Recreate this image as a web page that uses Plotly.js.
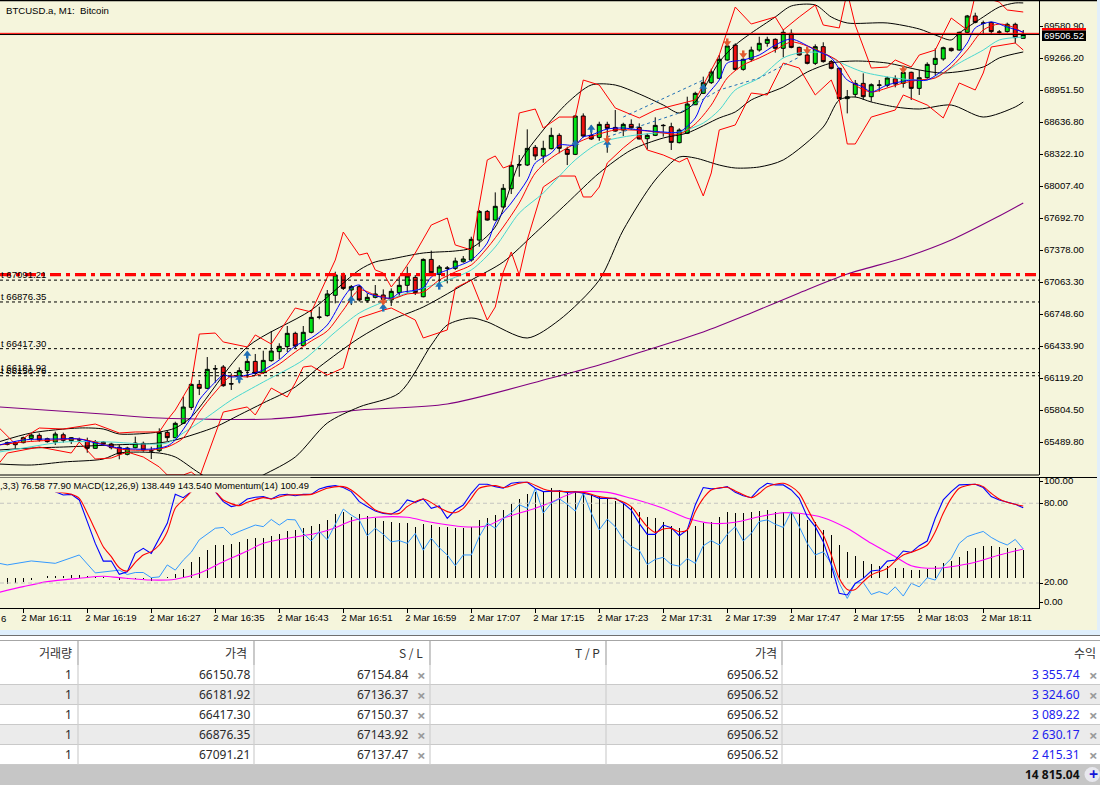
<!DOCTYPE html>
<html><head><meta charset="utf-8">
<script src="https://cdn.plot.ly/plotly-3.0.1.min.js"></script>
<style>html,body{margin:0;padding:0;background:#fff;overflow:hidden}#c{width:1100px;height:791px}</style>
</head><body><div id="c"></div>
<script>
// ---------- candles: one per minute, k = minutes after 16:11, first candle is k = -2
const openP=[65476,65493,65493,65535,65565,65532,65499,65571,65512,65519,65512,65437,65499,65480,65447,65378,65443,65486,65414,65414,65594,65542,65683,65840,66066,66027,66217,66237,66073,66148,66201,66292,66181,66299,66388,66437,66568,66447,66578,66725,66742,66942,67142,66994,67027,66889,66922,66945,66896,66968,67040,67118,66928,67295,67148,67207,67207,67272,67289,67485,67767,67682,67810,67990,68223,68223,68397,68312,68384,68515,68377,68328,68705,68515,68495,68623,68593,68567,68623,68593,68482,68515,68610,68600,68443,68535,68816,68928,69033,69076,69256,69403,69164,69263,69354,69420,69459,69371,69518,69380,69305,69223,69387,69240,69174,68876,68918,69026,68895,69007,69007,69072,69026,69135,68977,69082,69213,69266,69371,69354,69528,69689,69617,69626,69528,69535,69607,69469];
const highP=[65503,65503,65552,65585,65585,65542,65601,65591,65548,65542,65542,65519,65509,65493,65470,65453,65552,65503,65453,65634,65617,65699,65945,66076,66109,66335,66256,66256,66174,66233,66322,66365,66397,66591,66470,66640,66584,66640,66797,66830,66994,67174,67164,67043,67043,66961,67043,67000,67010,67125,67223,67141,67305,67381,67240,67230,67312,67328,67518,67781,67781,67954,68036,68256,68321,68574,68420,68462,68590,68535,68403,68715,68731,68616,68649,68649,68764,68639,68672,68633,68535,68692,68626,68639,68584,68895,68944,69092,69170,69305,69436,69420,69272,69387,69485,69485,69469,69557,69557,69387,69322,69410,69430,69256,69181,68961,69059,69125,69026,69059,69092,69105,69174,69141,69158,69233,69371,69387,69377,69535,69699,69721,69643,69633,69551,69623,69623,69551];
const lowP=[65466,65434,65486,65512,65503,65493,65470,65493,65480,65493,65394,65434,65466,65427,65329,65368,65437,65404,65332,65401,65509,65535,65676,65814,65961,66020,66083,66043,66011,66076,66132,66155,66168,66289,66312,66384,66420,66443,66568,66706,66732,66863,66994,66846,66880,66869,66912,66797,66837,66928,66961,66945,66922,67158,67059,67059,67191,67263,67272,67420,67676,67676,67804,67938,68108,68213,68272,68246,68377,68338,68223,68321,68495,68469,68462,68344,68551,68508,68567,68476,68377,68508,68502,68371,68436,68528,68813,68921,69020,69066,69249,69151,69151,69240,69338,69387,69328,69282,69371,69299,69213,69207,69230,69164,68869,68731,68889,68863,68846,68945,68987,68987,68984,68863,68912,69072,69108,69249,69338,69348,69518,69617,69502,69512,69502,69525,69420,69469];
const closeP=[65493,65473,65542,65568,65519,65503,65578,65516,65542,65522,65437,65503,65480,65443,65381,65440,65489,65421,65411,65594,65542,65683,65843,66066,66027,66214,66220,66053,66070,66201,66292,66174,66302,66394,66440,66568,66443,66578,66725,66728,66955,67142,67010,67027,66896,66922,66955,66902,66981,67040,67131,66968,67295,67164,67220,67210,67279,67299,67492,67767,67682,67817,67994,68220,68226,68387,68312,68387,68515,68387,68328,68705,68508,68479,68623,68584,68557,68623,68590,68479,68515,68613,68613,68446,68567,68823,68928,69033,69138,69263,69394,69164,69263,69354,69420,69459,69371,69528,69380,69305,69223,69387,69240,69174,68876,68895,69026,68895,69013,69010,69079,69020,69135,68977,69082,69213,69272,69377,69348,69528,69689,69626,69620,69535,69531,69607,69476,69506.52];

// ---------- moving averages and bands, read at visible turning points
const ma200K=[-3,10,17,31,42,53,66,72,78,85,91,97,103,110,116,122,125];
const ma200=[65844,65775,65735,65726,65814,65873,66129,66257,66404,66581,66768,66965,67151,67309,67486,67722,67850];
const bbUpK=[-3,1,7,10,12,17,19,21,28,36,42,44,46,50,54,56,59,62,65,68,71,74,77,80,82,84,87,89,91,94,96,99,101,103,108,112,114,116,117,120,122,124,125];
const bbUp=[65502,65588,65637,65627,65578,65598,65637,65745,66434,66797,67191,67270,67299,67358,67378,67407,67614,68243,68568,68833,69010,69010,68922,68813,68735,68843,69236,69403,69521,69679,69787,69797,69679,69620,69620,69561,69502,69453,69521,69679,69777,69817,69817];
const bbMidK=[-3,1,5,11,17,19,24,27,30,34,37,42,46,50,56,60,64,68,72,76,80,83,87,89,91,95,98,101,104,108,112,115,120,122,125];
const bbMid=[65421,65440,65450,65470,65490,65519,65647,65765,65883,66040,66237,66522,66699,66827,67092,67270,67555,67850,68145,68371,68489,68538,68686,68745,68863,68990,69138,69226,69246,69226,69158,69128,69187,69276,69335];
const bbLowK=[-3,1,5,10,12,17,19,22,26,30,34,38,42,47,51,53,56,58,63,67,72,75,79,82,84,87,89,92,95,100,102,104,106,109,112,116,120,124,125];
const bbLow=[65283,65273,65303,65332,65391,65391,65352,65195,65027,65175,65352,65686,65844,65981,66453,66650,66719,66680,66522,66699,67092,67584,68076,68302,68292,68223,68194,68204,68273,68597,68863,68892,68843,68794,68774,68813,68695,68794,68843];
const envUpK=[-3,-1,1,2,5,9,12,14,17,18,19,20,21,22,24,25,28,29,31,34,36,39,40,42,43,44,45,46,47,49,51,53,54,56,58,59,60,61,62,64,65,67,69,70,72,74,77,79,82,84,87,89,91,94,95,97,99,100,102,103,104,106,108,109,111,112,114,116,118,119,122,123,125];
const envUp=[65637,65480,65588,65637,65627,65676,65588,65598,65598,65716,65814,65942,66080,66561,66571,66483,66434,66552,66463,66817,66778,67289,67564,67338,67358,67191,67161,67024,67122,67358,67633,67702,67437,67388,68273,68312,68194,68223,68735,68774,68587,68695,68695,69059,69010,68784,68686,68764,68823,68863,69305,69777,69610,69679,69551,69679,69797,69600,69571,69925,69600,69177,69187,69256,69187,69305,69354,69669,69551,69895,69826,69748,69728];
const envLowK=[-3,-2,2,6,7,9,11,13,15,17,18,20,21,22,25,28,29,31,33,34,35,36,38,40,41,42,45,46,47,49,50,53,54,56,58,59,60,61,62,63,65,67,69,70,71,72,73,75,77,78,80,82,83,85,86,87,89,91,93,95,97,99,101,102,103,104,106,109,110,113,115,117,119,120,121,124,125];
const envLow=[65293,65391,65450,65391,65499,65332,65342,65401,65352,65254,65175,65175,65204,65145,65794,65844,65765,66030,65942,66080,66237,66247,66158,66227,66502,66719,66797,66817,66778,66699,66522,66601,67014,67092,66699,66827,67171,67368,67142,67486,68007,68115,68115,67909,67909,68007,68243,68391,68518,68371,68322,68253,68292,67919,68145,68568,68617,68931,68912,69226,69177,68912,69059,68863,68430,68430,68695,68764,68912,68813,68686,69030,68961,69128,69384,69423,69354];
const maFastK=[-3,0,4,7,9,12,16,18,19,21,22,24,25,26,28,30,32,34,36,38,40,41,42,43,46,47,50,51,53,56,58,59,61,63,64,66,67,69,70,71,73,75,77,80,82,84,85,87,88,90,92,94,96,99,101,103,105,106,108,111,113,116,118,119,121,123,125];
const maFast=[65470,65519,65529,65529,65490,65440,65430,65460,65519,65745,65912,66089,66158,66139,66158,66207,66306,66444,66522,66650,66915,67014,67043,66965,66915,66965,67014,67122,67191,67289,67456,67653,67850,68076,68243,68341,68420,68420,68499,68518,68577,68587,68568,68548,68548,68686,68863,69059,69226,69256,69305,69403,69462,69354,69276,69059,68990,68941,69010,69059,69059,69226,69423,69571,69630,69580,69531];
const maMidK=[-3,0,4,7,9,12,16,18,20,22,24,26,28,30,32,34,36,38,40,42,44,46,48,50,52,54,56,58,60,62,64,66,68,70,72,74,76,78,80,82,84,86,88,90,92,94,96,98,100,102,104,106,108,110,112,114,116,118,120,122,124,125];
const maMid=[65470,65499,65519,65529,65499,65430,65421,65450,65539,65794,65991,66148,66139,66178,66266,66384,66493,66591,66797,66994,66945,66906,66955,66974,67092,67171,67240,67407,67614,67850,68145,68292,68391,68469,68528,68568,68568,68558,68538,68528,68627,68813,69079,69207,69276,69354,69433,69394,69325,69236,69010,68941,68981,69030,69059,69079,69187,69354,69551,69610,69571,69521];
const maSlowK=[-3,0,5,11,15,18,20,23,26,30,35,39,42,45,48,52,56,59,62,65,69,72,75,79,82,85,87,89,92,95,97,100,102,105,109,113,115,117,120,122,125];
const maSlow=[65401,65440,65499,65499,65480,65490,65588,65745,65912,66089,66306,66581,66768,66876,66965,67063,67191,67417,67751,67948,68273,68440,68499,68538,68548,68636,68764,68961,69079,69276,69325,69325,69236,69138,69079,69059,69128,69226,69354,69453,69482];
const trendAK=[75,85]; const trendA=[68695,69059];
const trendBK=[73,82,87,92,97]; const trendB=[68499,68735,68961,69079,69285];
const buyK=[27,28,41,45,52,69,71,73,85]; const buyP=[66129,66365,66906,66827,67043,68440,68587,68440,68990];
const sellK=[45,73,88,90,98,110]; const sellP=[66876,68469,69423,69305,69344,69158];

// ---------- orders
const orderVolume=[1,1,1,1,1];
const orderPrice=[66150.78,66181.92,66417.30,66876.35,67091.21];
const orderSL=[67154.84,67136.37,67150.37,67143.92,67137.47];
const orderNow=[69506.52,69506.52,69506.52,69506.52,69506.52];
const orderProfit=["3 355.74","3 324.60","3 089.22","2 630.17","2 415.31"];
const profitTotal="14 815.04";
const tableHeaders=["거래량","가격","S / L","T / P","가격","수익"];
const bidPrice=69506.52, askPrice=69518;

// ---------- lower window
const stochK=[4,5,6,7,8,9,10,11,12,13,14,15,16,17,18,19,20,21,22,23,24,25,26,27,28,29,30,31,32,33,34,35,36,37,38,39,40,41,42,43,44,45,46,47,48,49,50,51,52,53,54,55,56,57,58,59,60,61,62,63,64,65,66,67,68,69,70,71,72,73,74,75,76,77,78,79,80,81,82,83,84,85,86,87,88,89,90,91,92,93,94,95,96,97,98,99,100,101,102,103,104,105,106,107,108,109,110,111,112,113,114,115,116,117,118,119,120,121,122,123,124,125];
const stochMain=[88.75,86.2,86.7,82.5,66.2,49.8,36.5,36.5,26.5,28.5,42.3,46.1,42.3,53.6,64.9,86.7,84.2,88.75,95,95,88.75,81.2,77.5,78.7,83.2,84.5,85,83.2,86.2,86.7,85.7,86.7,86.7,90.8,92.5,93.3,91.8,88.75,81.2,77.5,74.2,72.4,71.7,74.9,82.5,80.7,83.2,76.2,78,68.7,74.9,78.7,87.5,94.3,94.3,92.5,91.3,95,95.8,95.8,91.3,88.75,89.3,89.3,88.2,88.75,87.5,86.2,83.7,83.7,83.7,80,74.9,64.9,56.6,56.6,63.6,61.6,55.6,59.9,78.7,91.8,90.8,91.3,92.5,88.2,85.7,84.2,90.8,95,93.8,93.8,90,83.7,69.9,62.4,51.1,33.5,12.2,11,19.7,23.5,29,29.8,36.5,37.3,44.1,43.1,48.1,51.6,68.7,82.5,88.75,93.8,94.3,94.3,91.8,85,82.5,80.7,79.2,76.58];
const stochSigK=[4,6,7,8,9,10,11,12,13,14,15,16,17,18,19,20,21,22,24,25,27,28,30,31,33,36,38,40,41,43,44,45,47,48,50,52,53,54,55,56,57,59,60,62,63,65,66,70,72,74,76,77,78,79,80,81,82,83,84,85,86,88,89,91,92,93,95,96,97,98,99,100,101,102,103,104,105,106,108,109,110,111,113,114,115,116,117,118,119,120,121,122,123,124,125];
const stochSig=[88.75,86.7,83.7,72.4,59.9,47.3,39.8,31.5,29,35.5,41.1,43.6,48.6,58.6,76.2,82.5,88.75,95,88.75,82.5,78.2,80.7,84.2,83.2,86.2,86.7,91.3,92.5,90,80,74.9,72.9,72.4,77.5,83.2,76.7,73.7,72.9,76.2,83.7,91.3,93.3,91.8,95,95.8,90.8,89.3,88.2,85,83.2,77.5,69.9,62.4,58.1,60.6,61.1,58.6,59.9,73.7,83.7,90,92,89.3,84.2,87.5,92.5,95,92.5,87.5,76.2,64.9,56.1,41.1,23.5,15.2,15.2,21,26,31,36.5,41.1,43.1,48.6,58.6,72.4,83.7,91.3,93.3,94.3,92.5,87.5,83.2,80.7,79.2,77.9];
const macdHist=[-33,-25,-23,-13,-2,8,8,8,13,13,8,5,1,-3,-12,-7,-5,-7,-15,-3,3,20,43,78,103,138,165,165,167,178,192,197,198,210,217,233,239,247,259,269,289,319,327,305,317,307,299,284,279,275,275,255,269,264,255,255,250,250,255,289,297,314,339,369,394,419,430,430,447,439,427,434,422,414,405,397,385,372,355,327,305,300,280,260,250,247,260,272,280,305,327,324,324,330,334,339,327,330,327,319,289,277,239,214,164,127,107,83,68,60,60,50,47,38,38,43,60,72,83,105,133,147,158,158,155,150,147,138.449];
const macdSigK=[-3,0,3,7,10,12,16,19,22,25,28,30,33,37,39,41,44,48,51,55,58,60,64,66,69,73,76,80,83,86,89,92,95,97,100,103,106,109,111,114,116,119,122,125];
const macdSig=[-73,-45,-20,-3,7,0,-12,-8,22,80,133,172,197,225,250,284,302,302,277,255,260,297,347,377,427,427,397,347,297,272,277,305,325,322,300,247,172,105,60,47,55,77,113,143.54];
const momK=[-3,-2,1,4,7,9,12,13,14,15,16,17,18,19,20,21,22,23,24,25,26,27,28,29,30,31,32,33,34,35,36,37,38,39,40,41,42,43,44,45,46,47,48,49,50,51,52,53,54,55,56,57,58,59,60,61,62,63,64,65,66,67,68,69,70,71,72,73,74,75,76,77,78,79,80,81,82,83,84,85,86,87,88,89,90,91,92,93,94,95,96,97,98,99,100,101,102,103,104,105,106,107,108,109,110,111,112,113,114,115,116,117,118,119,120,121,122,123,124,125];
const mom=[100.13,100.09,100.19,100.13,100.34,99.89,99.96,99.85,99.90,99.90,99.77,99.79,100.09,99.96,100.21,100.41,100.72,100.86,101.01,101.03,100.84,100.93,101.01,101.09,101.05,101.23,101.09,101.23,101.22,100.88,100.69,100.93,100.72,101.09,101.49,101.34,101.22,100.82,101.01,100.86,100.67,100.70,100.63,100.88,100.46,100.76,100.52,100.34,100.07,100.34,100.34,100.80,101.14,101.01,101.26,101.39,101.60,101.51,102.01,101.39,101.64,101.75,101.61,101.44,101.89,101.39,100.97,101.24,101.05,100.74,100.55,100.46,100.10,100.23,100.28,100.10,100.06,100.25,100.13,100.57,100.70,100.59,100.86,101.05,100.69,100.88,101.18,101.22,101.11,101.03,101.43,101.05,100.63,100.34,100.42,100.13,99.63,99.25,99.63,99.65,99.35,99.42,99.35,99.54,99.31,99.63,99.54,99.77,99.71,100.05,100.25,100.63,100.80,100.87,100.93,100.78,100.67,100.59,100.73,100.49];
const stochLevels=[80,20];

// ---------- axes text
const priceTicks=[69580.90,69266.20,68951.50,68636.80,68322.10,68007.40,67692.70,67378.00,67063.30,66748.60,66433.90,66119.20,65804.50,65489.80];
const timeTickK=[0,8,16,24,32,40,48,56,64,72,80,88,96,104,112,120];
const timeTickText=["2 Mar 16:11","2 Mar 16:19","2 Mar 16:27","2 Mar 16:35","2 Mar 16:43","2 Mar 16:51","2 Mar 16:59","2 Mar 17:07","2 Mar 17:15","2 Mar 17:23","2 Mar 17:31","2 Mar 17:39","2 Mar 17:47","2 Mar 17:55","2 Mar 18:03","2 Mar 18:11"];
const stochTickVals=[96,80,20,5];
const stochTickText=["100.00","80.00","20.00","0.00"];

// ---------- styling / layout helpers
const W=1100,H=791;
const px=x=>x/W, py=y=>1-y/H;
const BG='#f5f5dc';
const FONT='"Liberation Sans",Arial,sans-serif';
const FS=9.6;
const UI='"Noto Sans","Noto Sans CJK KR",sans-serif';
const XMIN=-2.91, XMAX=126.97;
const candleK=openP.map((_,i)=>i-2);

const line=(x,y,color,w,ya,dash,smooth)=>({type:'scatter',mode:'lines',x,y,xaxis:'x',yaxis:ya,hoverinfo:'skip',showlegend:false,line:{color,width:w,dash:dash||'solid',shape:smooth?'spline':'linear',smoothing:0.8}});
const traces=[];
// lower window first (MACD, momentum), stochastic last so it stays on top
traces.push({type:'bar',x:candleK,y:macdHist,base:0,width:0.16,marker:{color:'#000',line:{width:0}},xaxis:'x',yaxis:'y2',hoverinfo:'skip',showlegend:false});
traces.push(line(macdSigK,macdSig,'#ff00ff',1.1,'y2',null,true));
traces.push(line(momK,mom,'#3399ff',1,'y3'));
stochLevels.forEach(v=>traces.push(line([XMIN,XMAX],[v,v],'#c4c4c0',1,'y4','4px,3px')));
traces.push(line(stochK,stochMain,'#0000ff',1.1,'y4'));
traces.push(line(stochSigK,stochSig,'#ff0000',1.1,'y4',null,true));
// main window
traces.push({type:'candlestick',x:candleK,open:openP,high:highP,low:lowP,close:closeP,xaxis:'x',yaxis:'y',hoverinfo:'skip',showlegend:false,whiskerwidth:0,
  increasing:{fillcolor:'#00e414',line:{color:'#000',width:1}},decreasing:{fillcolor:'#ee0f0f',line:{color:'#000',width:1}}});
traces.push(line(ma200K,ma200,'#800080',1.1,'y',null,true));
traces.push(line(bbUpK,bbUp,'#000',1,'y',null,true));
traces.push(line(bbMidK,bbMid,'#000',1,'y',null,true));
traces.push(line(bbLowK,bbLow,'#000',1,'y',null,true));
traces.push(line(envUpK,envUp,'#ff0000',1,'y'));
traces.push(line(envLowK,envLow,'#ff0000',1,'y'));
traces.push(line(maSlowK,maSlow,'#48d8d0',1,'y',null,true));
traces.push(line(maMidK,maMid,'#ff0000',1,'y',null,true));
traces.push(line(maFastK,maFast,'#0000ff',1,'y',null,true));
traces.push(line(trendAK,trendA,'#1f6fb5',1,'y','3px,3px'));
traces.push(line(trendBK,trendB,'#1f6fb5',1,'y','3px,3px'));
orderPrice.forEach(v=>traces.push(line([XMIN,XMAX],[v,v],'#000',1,'y','3px,3px')));
orderSL.forEach(v=>traces.push(line([XMIN,XMAX],[v,v],'#ff0000',1.2,'y','11px,5px,4px,5px')));
traces.push(line([XMIN,XMAX],[askPrice,askPrice],'#ff0000',1,'y'));
traces.push(line([XMIN,XMAX],[bidPrice,bidPrice],'#000',1,'y'));
const stem=45;
traces.push({type:'scatter',mode:'markers',x:buyK,y:buyP,xaxis:'x',yaxis:'y',hoverinfo:'skip',showlegend:false,marker:{symbol:'triangle-up',size:7,color:'#1f6fb5',line:{width:0}},
  error_y:{type:'constant',value:stem,valueminus:stem,symmetric:false,array:[],visible:true,thickness:2.5,width:0,color:'#1f6fb5',traceref:0}});
traces[traces.length-1].error_y={type:'data',symmetric:false,array:buyK.map(()=>0),arrayminus:buyK.map(()=>stem),visible:true,thickness:2.5,width:0,color:'#1f6fb5'};
traces.push({type:'scatter',mode:'markers',x:sellK,y:sellP,xaxis:'x',yaxis:'y',hoverinfo:'skip',showlegend:false,marker:{symbol:'triangle-down',size:7,color:'#e2592f',line:{width:0}},
  error_y:{type:'data',symmetric:false,array:sellK.map(()=>stem),arrayminus:sellK.map(()=>0),visible:true,thickness:2.5,width:0,color:'#e2592f'}});

// ---------- shapes
const rect=(x0,y0,x1,y1,fill)=>({type:'rect',xref:'paper',yref:'paper',x0:px(x0),x1:px(x1),y0:py(y1),y1:py(y0),fillcolor:fill,line:{width:0},layer:'above'});
const hl=(x0,x1,y,c,w)=>({type:'line',xref:'paper',yref:'paper',x0:px(x0),x1:px(x1),y0:py(y),y1:py(y),line:{color:c,width:w||1},layer:'above'});
const vl=(x,y0,y1,c,w)=>({type:'line',xref:'paper',yref:'paper',x0:px(x),x1:px(x),y0:py(y0),y1:py(y1),line:{color:c,width:w||1},layer:'above'});
const shapes=[
  hl(0,1100,0.5,'#000',1.5), hl(0,1039,475,'#000',1), hl(0,1100,477.5,'#000',1),
  rect(1097,0,1100,630,'#e2effa'),
  rect(0,630,1100,791,'#ffffff'), rect(0,630,1100,635,'#dfeffc'), hl(0,1100,635.5,'#6f6f6f',1), hl(0,1100,640.5,'#a6a6a6',1.2),
  rect(1042,28,1086,30.5,'#ff0000'), rect(1042,30.5,1086,41,'#000000')
];
const rowTop=665,rowH=20,dividers=[78,254,430,606,782];
orderPrice.forEach((_,i)=>{ if(i%2==1) shapes.push(rect(0,rowTop+i*rowH,1100,rowTop+(i+1)*rowH,'#ebebeb')); });
orderPrice.forEach((_,i)=>shapes.push(hl(0,1100,rowTop+(i+1)*rowH-0.5,'#c9c9c9',1)));
dividers.forEach(d=>{shapes.push(vl(d,641,665,'#a6a6a6',1.2));shapes.push(vl(d,665,765,'#cfcfcf',1.2));});
shapes.push(rect(0,765,1100,785,'#c6c6c6'));
shapes.push({type:'circle',xref:'paper',yref:'paper',x0:px(1084.5),x1:px(1100),y0:py(782),y1:py(767),fillcolor:'#e8e8ee',line:{width:0},layer:'above'});

// ---------- annotations
const ann=(t,x,y,o={})=>Object.assign({text:t,x:px(x),y:py(y),xref:'paper',yref:'paper',showarrow:false,xanchor:'right',yanchor:'middle',borderpad:0,font:{family:UI,size:12,color:'#2a2a2a'}},o);
const annotations=[
  ann('BTCUSD.a, M1:  Bitcoin',5,11,{xanchor:'left',font:{family:FONT,size:FS,color:'#000'}}),
  ann(',3,3) 76.58 77.90 MACD(12,26,9) 138.449 143.540 Momentum(14) 100.49',-1,485,{xanchor:'left',font:{family:FONT,size:9.4,color:'#000'},bgcolor:BG,width:310,height:14,align:'left'}),
  ann('6',0,618,{xanchor:'left',font:{family:FONT,size:FS,color:'#000'}}),
  ann(bidPrice.toFixed(2),1064,35.7,{xanchor:'center',font:{family:FONT,size:FS,color:'#fff'}})
];
orderPrice.forEach(v=>annotations.push({text:'t '+v.toFixed(2),x:XMIN,y:v,xref:'x',yref:'y',showarrow:false,xanchor:'left',yanchor:'middle',yshift:5.5,borderpad:0,font:{family:FONT,size:FS,color:'#000'}}));
const hdrRight=[73,248,424,601,778,1096.5];
tableHeaders.forEach((t,i)=>annotations.push(ann(t,hdrRight[i],652.5,{font:{family:'"Noto Sans CJK KR",sans-serif',size:12,color:'#333'}})));
const xMark={xanchor:'center',font:{family:UI,size:15,color:'#9a9a9a'}};
orderPrice.forEach((_,i)=>{
  const y=rowTop+i*rowH+9.5;
  annotations.push(ann(String(orderVolume[i]),73,y));
  annotations.push(ann(orderPrice[i].toFixed(2),251,y));
  annotations.push(ann(orderSL[i].toFixed(2),409,y));
  annotations.push(ann('<b>×</b>',421.5,y,xMark));
  annotations.push(ann(orderNow[i].toFixed(2),778.5,y));
  annotations.push(ann(orderProfit[i],1081,y,{font:{family:UI,size:12,color:'#2020ee'}}));
  annotations.push(ann('<b>×</b>',1093,y,xMark));
});
annotations.push(ann('<b>'+profitTotal+'</b>',1081,774.5,{font:{family:UI,size:12,color:'#111'}}));
annotations.push(ann('<b>+</b>',1093,774,{xanchor:'center',font:{family:UI,size:16,color:'#1515d8'}}));

const hidden=(range,domain)=>({domain,range,overlaying:'y2',anchor:'x',visible:false,fixedrange:true});
const lowDom=[py(608),py(478)];
const layout={
  width:W,height:H,margin:{l:0,r:0,t:0,b:0,pad:0},paper_bgcolor:BG,plot_bgcolor:BG,showlegend:false,bargap:0,shapes,annotations,
  font:{family:FONT,size:FS,color:'#000'},
  xaxis:{domain:[0,px(1039)],range:[XMIN,XMAX],anchor:'y2',type:'linear',rangeslider:{visible:false},showgrid:false,zeroline:false,
    tickmode:'array',tickvals:timeTickK,ticktext:timeTickText,ticks:'outside',ticklen:4,tickwidth:1,tickcolor:'#000',showline:true,linecolor:'#000',linewidth:1,
    ticklabelposition:'outside right',ticklabelshift:-3,tickfont:{family:FONT,size:FS,color:'#000'},fixedrange:true},
  yaxis:{domain:[py(475),1],range:[65174.85,69846],side:'right',anchor:'x',showgrid:false,zeroline:false,tickmode:'array',tickvals:priceTicks,ticktext:priceTicks.map(v=>v.toFixed(2)),
    ticks:'outside',ticklen:3,tickcolor:'#000',ticklabelstandoff:-1,ticklabelshift:-1,showline:true,linecolor:'#000',linewidth:1,tickfont:{family:FONT,size:FS,color:'#000'},fixedrange:true},
  yaxis2:{domain:lowDom,range:[-151.8,498.7],anchor:'x',side:'right',visible:false,fixedrange:true},
  yaxis3:hidden([99.01,102.27],lowDom),
  yaxis4:{domain:lowDom,range:[1.2,99],overlaying:'y2',anchor:'x',side:'right',showgrid:false,zeroline:false,tickmode:'array',tickvals:stochTickVals,ticktext:stochTickText,
    ticks:'outside',ticklen:3,tickcolor:'#000',ticklabelstandoff:-1,ticklabelshift:-1,showline:true,linecolor:'#000',linewidth:1,tickfont:{family:FONT,size:FS,color:'#000'},fixedrange:true}
};
Plotly.newPlot('c',traces,layout,{displayModeBar:false,staticPlot:true});
</script></body></html>
